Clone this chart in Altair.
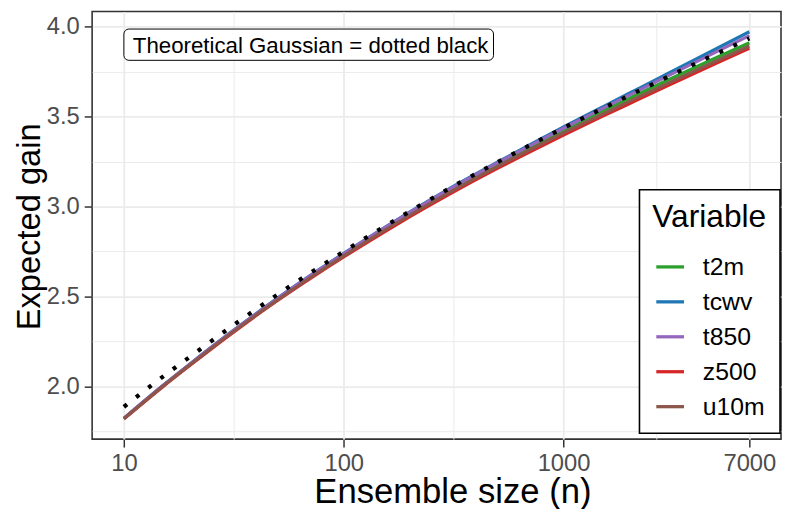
import altair as alt
import pandas as pd

# ---- data ----
n_vals = [10, 15, 20, 30, 50, 70, 100, 150, 200, 300, 500, 700, 1000, 1500, 2000, 3000, 5000, 7000]
theory = [1.885, 2.052, 2.164, 2.321, 2.510, 2.628, 2.749, 2.882, 2.973, 3.098, 3.246, 3.340, 3.437, 3.544, 3.619, 3.723, 3.852, 3.935]
t2m  = [1.820, 2.000, 2.122, 2.288, 2.485, 2.608, 2.732, 2.868, 2.960, 3.086, 3.234, 3.328, 3.424, 3.530, 3.603, 3.705, 3.830, 3.910]
tcwv = [1.821, 2.002, 2.124, 2.291, 2.490, 2.614, 2.739, 2.876, 2.970, 3.097, 3.246, 3.342, 3.442, 3.553, 3.631, 3.741, 3.880, 3.972]
t850 = [1.821, 2.002, 2.124, 2.290, 2.488, 2.612, 2.737, 2.874, 2.967, 3.093, 3.242, 3.337, 3.435, 3.544, 3.621, 3.728, 3.863, 3.950]
z500 = [1.818, 1.996, 2.116, 2.281, 2.477, 2.597, 2.719, 2.852, 2.943, 3.066, 3.212, 3.303, 3.397, 3.501, 3.573, 3.674, 3.799, 3.880]
u10m = [1.819, 1.998, 2.119, 2.285, 2.480, 2.602, 2.725, 2.860, 2.951, 3.075, 3.222, 3.314, 3.409, 3.513, 3.586, 3.687, 3.812, 3.893]

variables = ["t2m", "tcwv", "t850", "z500", "u10m"]
colors = ["#2CA02C", "#1F77B4", "#9467BD", "#D62728", "#8C564B"]
series = {"t2m": t2m, "tcwv": tcwv, "t850": t850, "z500": z500, "u10m": u10m}

x_major = [10, 100, 1000, 7000]
x_minor = [31.623, 316.23, 2645.0]
y_major = [2.0, 2.5, 3.0, 3.5, 4.0]
y_minor = [1.75, 2.25, 2.75, 3.25, 3.75]

note_text = "Theoretical Gaussian = dotted black"

# ---- tables ----
rows = []
for v in variables:
    for n, g in zip(n_vals, series[v]):
        rows.append({"n": n, "gain": g, "Variable": v})
df = pd.DataFrame(rows)
df_theory = pd.DataFrame({"n": n_vals, "gain": theory})
df_note = pd.DataFrame({"n": [10], "n2": [480], "y": [3.9], "y1": [3.813], "y2": [3.987], "label": [note_text]})

FONT = "Liberation Sans"

x_scale = alt.Scale(type="log", domain=[7.17, 9750], nice=False)
y_scale = alt.Scale(domain=[1.7054, 4.0843], nice=False, zero=False)

x_major_str = "[" + ",".join(str(v) for v in x_major) + "]"
x_minor_test = f"indexof({x_major_str}, datum.value) < 0"
y_minor_test = "(datum.value * 4) % 2 == 1"

x_axis = alt.Axis(
    values=sorted(x_major + x_minor),
    title="Ensemble size (n)",
    labelExpr=f"indexof({x_major_str}, datum.value) >= 0 ? format(datum.value, 'd') : ''",
    tickColor={"condition": {"test": x_minor_test, "value": "transparent"}, "value": "#333333"},
    gridWidth={"condition": {"test": x_minor_test, "value": 1.0}, "value": 1.8},
    titleX=364, titleY=64, titleBaseline="alphabetic", titleAlign="center",
    titleFontSize=35, labelOverlap=False,
)
y_axis = alt.Axis(
    values=sorted(y_major + y_minor),
    title="Expected gain",
    labelExpr=f"{y_minor_test} ? '' : format(datum.value, '.1f')",
    tickColor={"condition": {"test": y_minor_test, "value": "transparent"}, "value": "#333333"},
    gridWidth={"condition": {"test": y_minor_test, "value": 1.0}, "value": 1.8},
    titleX=-63, titleY=217, titleBaseline="middle", titleAlign="center", titleAngle=270,
    titleFontSize=33, labelOverlap=False,
)

lines = alt.Chart(df).mark_line(strokeWidth=3.2, strokeCap="butt", interpolate="monotone").encode(
    x=alt.X("n:Q", scale=x_scale, axis=x_axis),
    y=alt.Y("gain:Q", scale=y_scale, axis=y_axis),
    color=alt.Color(
        "Variable:N",
        scale=alt.Scale(domain=variables, range=colors),
        sort=variables,
        legend=alt.Legend(
            orient="none", legendX=553, legendY=180,
            title="Variable", titleFontSize=32, titleFont=FONT, titleColor="black",
            titleFontWeight="normal", titlePadding=17,
            labelFontSize=25, labelFont=FONT, labelColor="black", labelOffset=17,
            symbolType="stroke", symbolSize=784, symbolStrokeWidth=3.3, symbolOffset=2,
            rowPadding=6.3, padding=13, strokeColor="black", fillColor="white",
        ),
    ),
)

dotted = alt.Chart(df_theory).mark_line(
    color="black", strokeWidth=4.2, strokeDash=[4, 11.6], strokeCap="butt", interpolate="monotone"
).encode(x=alt.X("n:Q", scale=x_scale), y=alt.Y("gain:Q", scale=y_scale))

box = alt.Chart(df_note).mark_rect(
    fill="white", stroke="black", strokeWidth=1, cornerRadius=5
).encode(x="n:Q", x2="n2:Q", y="y1:Q", y2="y2:Q")

note = alt.Chart(df_note).mark_text(
    align="left", baseline="middle", dx=9, dy=1, fontSize=22.5, font=FONT, color="black"
).encode(x="n:Q", y="y:Q", text="label:N")

chart = alt.layer(lines, dotted, box, note).properties(
    width=696, height=432,
    autosize=alt.AutoSizeParams(type="none"),
    padding={"left": 85, "top": 1, "right": 1, "bottom": 68},
).configure_view(
    stroke="#333333", strokeWidth=1.6
).configure_axis(
    labelFont=FONT, labelFontSize=24, labelColor="#4D4D4D", labelPadding=5,
    titleFont=FONT, titleColor="black", titleFontWeight="normal",
    gridColor="#EBEBEB", domain=False, tickSize=8, tickWidth=1.5,
).configure_legend(
    strokeWidth=1.6
)

chart.save("out.html", embed_options={"renderer": "svg", "actions": False})
